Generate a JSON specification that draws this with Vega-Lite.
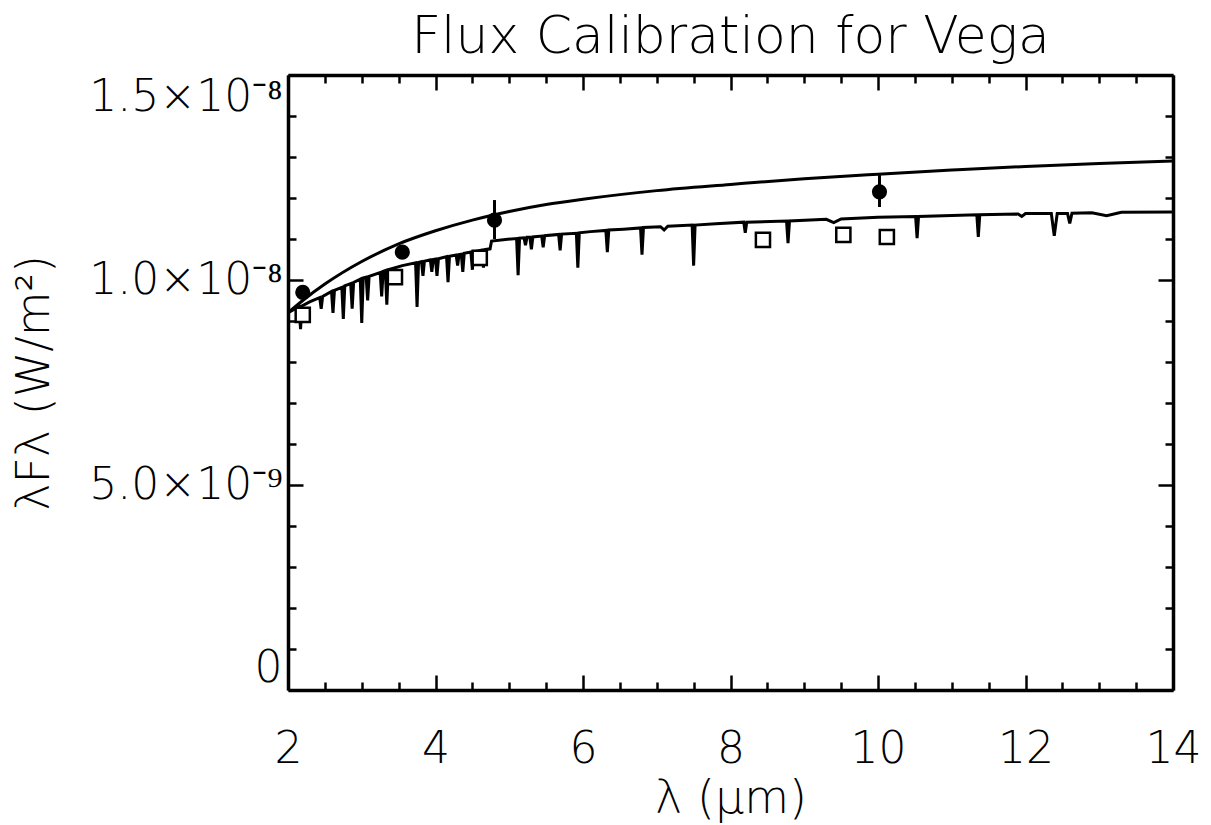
{
  "$schema": "https://vega.github.io/schema/vega-lite/v6.json",
  "width": 885,
  "height": 615,
  "autosize": {"type": "none"},
  "padding": {"left": 288, "top": 75, "right": 38, "bottom": 135},
  "background": "white",
  "title": {
    "text": "Flux Calibration for Vega",
    "font": "DejaVu Sans",
    "fontWeight": 200,
    "fontSize": 52,
    "color": "black",
    "anchor": "middle",
    "offset": 10
  },
  "config": {
    "view": {"stroke": null},
    "axis": {
      "grid": false,
      "domainColor": "black",
      "domainWidth": 3.5,
      "tickColor": "black",
      "tickWidth": 2.5,
      "labelFont": "DejaVu Sans",
      "labelFontWeight": 200,
      "labelFontSize": 44,
      "labelColor": "black",
      "labelLimit": 0,
      "titleFont": "DejaVu Sans",
      "titleFontWeight": 200,
      "titleFontSize": 46,
      "titleColor": "black",
      "labelOverlap": false
    }
  },
  "datasets": {
    "spectrum": [
      {"lambda": 2.0, "flux": 9.2},
      {"lambda": 2.15, "flux": 9.35}, {"lambda": 2.17, "flux": 8.8}, {"lambda": 2.19, "flux": 9.37},
      {"lambda": 2.3, "flux": 9.47},
      {"lambda": 2.43, "flux": 9.57}, {"lambda": 2.45, "flux": 9.3}, {"lambda": 2.47, "flux": 9.6},
      {"lambda": 2.59, "flux": 9.72}, {"lambda": 2.61, "flux": 9.2}, {"lambda": 2.63, "flux": 9.75},
      {"lambda": 2.73, "flux": 9.82}, {"lambda": 2.75, "flux": 9.05}, {"lambda": 2.77, "flux": 9.86},
      {"lambda": 2.85, "flux": 9.91}, {"lambda": 2.87, "flux": 9.3}, {"lambda": 2.89, "flux": 9.94},
      {"lambda": 2.98, "flux": 10.02}, {"lambda": 3.0, "flux": 8.95}, {"lambda": 3.02, "flux": 10.05},
      {"lambda": 3.06, "flux": 10.07}, {"lambda": 3.08, "flux": 9.5}, {"lambda": 3.1, "flux": 10.09},
      {"lambda": 3.25, "flux": 10.18}, {"lambda": 3.27, "flux": 9.6}, {"lambda": 3.29, "flux": 10.21},
      {"lambda": 3.32, "flux": 10.23}, {"lambda": 3.34, "flux": 9.4}, {"lambda": 3.36, "flux": 10.25},
      {"lambda": 3.55, "flux": 10.35},
      {"lambda": 3.73, "flux": 10.42}, {"lambda": 3.75, "flux": 9.34}, {"lambda": 3.77, "flux": 10.43},
      {"lambda": 3.81, "flux": 10.45}, {"lambda": 3.83, "flux": 10.1}, {"lambda": 3.85, "flux": 10.46},
      {"lambda": 3.93, "flux": 10.49}, {"lambda": 3.95, "flux": 10.2}, {"lambda": 3.97, "flux": 10.5},
      {"lambda": 4.0, "flux": 10.51}, {"lambda": 4.02, "flux": 10.1}, {"lambda": 4.04, "flux": 10.52},
      {"lambda": 4.15, "flux": 10.57}, {"lambda": 4.17, "flux": 9.95}, {"lambda": 4.19, "flux": 10.58},
      {"lambda": 4.28, "flux": 10.61}, {"lambda": 4.3, "flux": 10.35}, {"lambda": 4.32, "flux": 10.62},
      {"lambda": 4.35, "flux": 10.63}, {"lambda": 4.37, "flux": 10.2}, {"lambda": 4.39, "flux": 10.65},
      {"lambda": 4.48, "flux": 10.68}, {"lambda": 4.5, "flux": 10.25}, {"lambda": 4.52, "flux": 10.69},
      {"lambda": 4.63, "flux": 10.73}, {"lambda": 4.65, "flux": 10.3}, {"lambda": 4.67, "flux": 10.74},
      {"lambda": 4.74, "flux": 10.76}, {"lambda": 4.76, "flux": 10.95},
      {"lambda": 4.95, "flux": 10.99},
      {"lambda": 5.1, "flux": 11.01}, {"lambda": 5.12, "flux": 10.12}, {"lambda": 5.14, "flux": 11.02},
      {"lambda": 5.2, "flux": 11.03}, {"lambda": 5.22, "flux": 10.85}, {"lambda": 5.24, "flux": 11.04},
      {"lambda": 5.28, "flux": 11.04}, {"lambda": 5.3, "flux": 10.75}, {"lambda": 5.32, "flux": 11.05},
      {"lambda": 5.44, "flux": 11.07}, {"lambda": 5.46, "flux": 10.8}, {"lambda": 5.48, "flux": 11.08},
      {"lambda": 5.67, "flux": 11.11}, {"lambda": 5.69, "flux": 10.72}, {"lambda": 5.71, "flux": 11.12},
      {"lambda": 5.91, "flux": 11.14}, {"lambda": 5.93, "flux": 10.3}, {"lambda": 5.95, "flux": 11.15},
      {"lambda": 6.1, "flux": 11.18},
      {"lambda": 6.31, "flux": 11.21}, {"lambda": 6.33, "flux": 10.68}, {"lambda": 6.35, "flux": 11.22},
      {"lambda": 6.55, "flux": 11.24},
      {"lambda": 6.78, "flux": 11.27}, {"lambda": 6.8, "flux": 10.62}, {"lambda": 6.82, "flux": 11.28},
      {"lambda": 7.05, "flux": 11.3}, {"lambda": 7.1, "flux": 11.22}, {"lambda": 7.15, "flux": 11.31},
      {"lambda": 7.48, "flux": 11.34}, {"lambda": 7.5, "flux": 10.35}, {"lambda": 7.52, "flux": 11.34},
      {"lambda": 7.8, "flux": 11.37},
      {"lambda": 8.18, "flux": 11.41}, {"lambda": 8.2, "flux": 11.15}, {"lambda": 8.22, "flux": 11.41},
      {"lambda": 8.76, "flux": 11.44}, {"lambda": 8.78, "flux": 10.9}, {"lambda": 8.8, "flux": 11.44},
      {"lambda": 9.3, "flux": 11.48}, {"lambda": 9.4, "flux": 11.4}, {"lambda": 9.5, "flux": 11.49},
      {"lambda": 10.0, "flux": 11.53},
      {"lambda": 10.51, "flux": 11.55}, {"lambda": 10.53, "flux": 11.02}, {"lambda": 10.55, "flux": 11.55},
      {"lambda": 11.34, "flux": 11.59}, {"lambda": 11.36, "flux": 11.05}, {"lambda": 11.38, "flux": 11.59},
      {"lambda": 11.9, "flux": 11.61}, {"lambda": 11.95, "flux": 11.55}, {"lambda": 12.0, "flux": 11.62},
      {"lambda": 12.35, "flux": 11.62}, {"lambda": 12.39, "flux": 11.08}, {"lambda": 12.43, "flux": 11.62},
      {"lambda": 12.57, "flux": 11.62}, {"lambda": 12.6, "flux": 11.38}, {"lambda": 12.63, "flux": 11.63},
      {"lambda": 12.9, "flux": 11.64}, {"lambda": 13.1, "flux": 11.57}, {"lambda": 13.3, "flux": 11.65},
      {"lambda": 14.0, "flux": 11.66}
    ],
    "model": [
      {"lambda": 2.0, "flux": 9.2},
      {"lambda": 2.2, "flux": 9.5},
      {"lambda": 2.5, "flux": 9.9},
      {"lambda": 3.0, "flux": 10.45},
      {"lambda": 3.5, "flux": 10.88},
      {"lambda": 4.0, "flux": 11.2},
      {"lambda": 4.5, "flux": 11.46},
      {"lambda": 5.0, "flux": 11.67},
      {"lambda": 5.5, "flux": 11.84},
      {"lambda": 6.0, "flux": 11.97},
      {"lambda": 7.0, "flux": 12.18},
      {"lambda": 8.0, "flux": 12.33},
      {"lambda": 9.0, "flux": 12.47},
      {"lambda": 10.0, "flux": 12.58},
      {"lambda": 11.0, "flux": 12.68},
      {"lambda": 12.0, "flux": 12.77},
      {"lambda": 13.0, "flux": 12.84},
      {"lambda": 14.0, "flux": 12.9}
    ],
    "photometry": [
      {"lambda": 2.2, "flux": 9.7, "lo": 9.7, "hi": 9.7},
      {"lambda": 3.55, "flux": 10.68, "lo": 10.68, "hi": 10.68},
      {"lambda": 4.8, "flux": 11.46, "lo": 11.0, "hi": 11.95},
      {"lambda": 10.02, "flux": 12.15, "lo": 11.78, "hi": 12.56}
    ],
    "synthetic": [
      {"lambda": 2.2, "flux": 9.15},
      {"lambda": 3.45, "flux": 10.07},
      {"lambda": 4.6, "flux": 10.54},
      {"lambda": 8.44, "flux": 10.98},
      {"lambda": 9.53, "flux": 11.1},
      {"lambda": 10.12, "flux": 11.05}
    ]
  },
  "resolve": {"axis": {"x": "independent", "y": "independent"}},
  "layer": [
    {
      "data": {"name": "spectrum"},
      "mark": {"type": "line", "color": "black", "strokeWidth": 3, "interpolate": "linear"},
      "encoding": {
        "x": {
          "field": "lambda",
          "type": "quantitative",
          "scale": {"domain": [2, 14], "nice": false, "zero": false},
          "axis": {
            "orient": "bottom",
            "title": "λ (μm)",
            "titlePadding": -2,
            "values": [2, 2.5, 3, 3.5, 4, 4.5, 5, 5.5, 6, 6.5, 7, 7.5, 8, 8.5, 9, 9.5, 10, 10.5, 11, 11.5, 12, 12.5, 13, 13.5, 14],
            "labelExpr": "datum.value % 2 === 0 ? format(datum.value, 'd') : ''",
            "labelPadding": 52,
            "labelFlush": false,
            "tickSize": {"condition": {"test": "datum.value % 2 === 0", "value": -15}, "value": -8}
          }
        },
        "y": {
          "field": "flux",
          "type": "quantitative",
          "scale": {"domain": [0, 15], "nice": false, "zero": true},
          "axis": {
            "orient": "left",
            "title": "λFλ (W/m²)",
            "titlePadding": 30,
            "values": [0, 1, 2, 3, 4, 5, 6, 7, 8, 9, 10, 11, 12, 13, 14, 15],
            "labelExpr": "datum.value === 15 ? '1.5×10⁻⁸' : datum.value === 10 ? '1.0×10⁻⁸' : datum.value === 5 ? '5.0×10⁻⁹' : datum.value === 0 ? '0' : ''",
            "labelPadding": 21,
            "labelFlush": true,
            "tickSize": {"condition": {"test": "datum.value % 5 === 0", "value": -15}, "value": -8}
          }
        }
      }
    },
    {
      "data": {"name": "model"},
      "mark": {"type": "line", "color": "black", "strokeWidth": 3, "interpolate": "monotone"},
      "encoding": {
        "x": {
          "field": "lambda",
          "type": "quantitative",
          "axis": {
            "orient": "top",
            "title": null,
            "labels": false,
            "values": [2, 2.5, 3, 3.5, 4, 4.5, 5, 5.5, 6, 6.5, 7, 7.5, 8, 8.5, 9, 9.5, 10, 10.5, 11, 11.5, 12, 12.5, 13, 13.5, 14],
            "tickSize": {"condition": {"test": "datum.value % 2 === 0", "value": -15}, "value": -8}
          }
        },
        "y": {
          "field": "flux",
          "type": "quantitative",
          "axis": {
            "orient": "right",
            "title": null,
            "labels": false,
            "values": [0, 1, 2, 3, 4, 5, 6, 7, 8, 9, 10, 11, 12, 13, 14, 15],
            "tickSize": {"condition": {"test": "datum.value % 5 === 0", "value": -15}, "value": -8}
          }
        }
      }
    },
    {
      "data": {"name": "photometry"},
      "mark": {"type": "rule", "color": "black", "strokeWidth": 3},
      "encoding": {
        "x": {"field": "lambda", "type": "quantitative", "axis": null},
        "y": {"field": "lo", "type": "quantitative", "axis": null},
        "y2": {"field": "hi"}
      }
    },
    {
      "data": {"name": "photometry"},
      "mark": {"type": "point", "shape": "circle", "filled": true, "color": "black", "opacity": 1, "size": 230},
      "encoding": {
        "x": {"field": "lambda", "type": "quantitative", "axis": null},
        "y": {"field": "flux", "type": "quantitative", "axis": null}
      }
    },
    {
      "data": {"name": "synthetic"},
      "mark": {"type": "point", "shape": "square", "filled": false, "color": "black", "fill": "white", "fillOpacity": 1, "opacity": 1, "strokeWidth": 2.5, "size": 200},
      "encoding": {
        "x": {"field": "lambda", "type": "quantitative", "axis": null},
        "y": {"field": "flux", "type": "quantitative", "axis": null}
      }
    }
  ]
}
